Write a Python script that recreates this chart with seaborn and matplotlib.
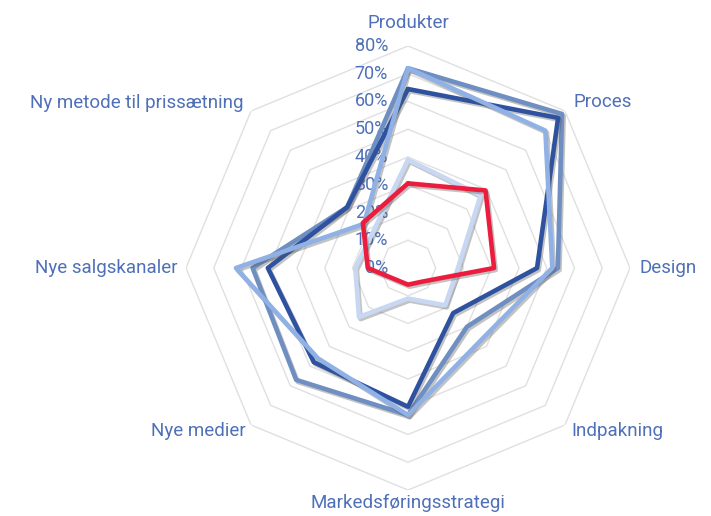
import matplotlib
matplotlib.use("Agg")
import matplotlib.pyplot as plt
import matplotlib.patheffects as pe
from matplotlib.transforms import ScaledTranslation
import numpy as np
import pandas as pd
import seaborn as sns

categories = [
    "Produkter",
    "Proces",
    "Design",
    "Indpakning",
    "Markedsføringsstrategi",
    "Nye medier",
    "Nye salgskanaler",
    "Ny metode til prissætning",
]

# values in percent
serie_a = [72, 78.5, 54, 30, 53, 57, 56, 31]      # grey-blue
serie_b = [64.5, 76.5, 46.5, 23, 50, 48, 50.5, 31]  # dark blue
serie_c = [72, 70, 52, 37, 53, 46, 62, 22.5]      # light blue
serie_d = [39, 37, 18, 19, 11, 25, 19, 18]        # very light blue
serie_e = [30.5, 39.5, 31, 7, 6, 6, 14.5, 23]     # red

series_names = ["A", "B", "C", "D", "E"]
series_values = [serie_a, serie_b, serie_c, serie_d, serie_e]
colors = ["#6F8EC2", "#2F52A0", "#8FB1E6", "#C8D8F2", "#EC1C3E"]

ticks = list(range(0, 90, 10))

text_color = "#4F70B8"
grid_color = "#E0E0E0"

n = len(categories)
angles = np.linspace(0, 2 * np.pi, n, endpoint=False)

rows = []
for name, vals in zip(series_names, series_values):
    for th, v in zip(list(angles) + [2 * np.pi], list(vals) + [vals[0]]):
        rows.append({"serie": name, "theta": th, "value": v})
df = pd.DataFrame(rows)

sns.set_theme(style="white")
plt.rcParams["font.family"] = ["Roboto", "DejaVu Sans"]

fig = plt.figure(figsize=(7.11, 5.16), dpi=100)
ax = fig.add_axes([186 / 711, 26 / 516, 444 / 711, 444 / 516], projection="polar")
ax.set_theta_zero_location("N")
ax.set_theta_direction(-1)
ax.set_ylim(0, 80)
ax.grid(False)
ax.spines["polar"].set_visible(False)
ax.set_xticks([])
ax.set_yticks([])

# octagon grid
ring_th = list(angles) + [2 * np.pi]
for t in ticks[1:]:
    ax.plot(ring_th, [t] * (n + 1), color=grid_color, lw=1, zorder=1)

shadow = [pe.SimpleLineShadow(offset=(1.2, -1.5), shadow_color="#555555", alpha=0.35), pe.Normal()]

sns.lineplot(
    data=df,
    x="theta",
    y="value",
    hue="serie",
    hue_order=series_names,
    palette=colors,
    sort=False,
    estimator=None,
    legend=False,
    lw=3.3,
    ax=ax,
    path_effects=shadow,
    zorder=3,
)
ax.set_xlabel("")
ax.set_ylabel("")

# radial tick labels, right aligned left of the vertical axis
offset = ScaledTranslation(-20 / 100, 0, fig.dpi_scale_trans)
for t in ticks:
    ax.text(0, t, f"{t}%", ha="right", va="center", fontsize=13,
            color=text_color, transform=ax.transData + offset, zorder=2)

# category labels
label_pos = [
    (88.3, "center"),
    (84.5, "left"),
    (83.6, "left"),
    (83.3, "left"),
    (84.7, "center"),
    (82.9, "right"),
    (82.9, "right"),
    (84.0, "right"),
]
for th, lab, (r, ha) in zip(angles, categories, label_pos):
    ax.text(th, r, lab, ha=ha, va="center", fontsize=13.5, color=text_color, clip_on=False)

fig.savefig("out.png", dpi=100, facecolor="white")
